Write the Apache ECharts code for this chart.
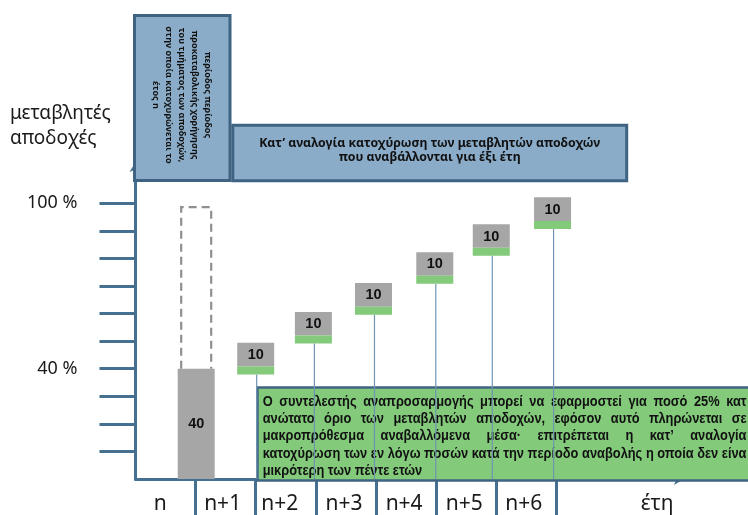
<!DOCTYPE html>
<html><head><meta charset="utf-8">
<script src="https://cdn.jsdelivr.net/npm/echarts@6/dist/echarts.min.js"></script>
<style>html,body{margin:0;padding:0;background:#fff}#c{width:748px;height:515px}</style>
</head><body><div id="c"></div>
<script>
// ---------- data ----------
const periods = ['n', 'n+1', 'n+2', 'n+3', 'n+4', 'n+5', 'n+6', 'έτη'];
const periodLabelPos = [0.41, 1.45, 2.40, 3.47, 4.47, 5.47, 6.46, 8.68];
const periodBoundaries = [1, 2, 3, 4, 5, 6, 7];
const yTickValues = [10, 20, 30, 40, 50, 60, 70, 80, 90, 100];
const yLabelValues = [40, 100];
const upfrontPos = [1.01];
const upfrontValue = [40];
const entitlementTop = [98.6];
const tranchePos = [2.0, 2.96, 3.96, 4.98, 5.92, 6.94];
const trancheValues = [10, 10, 10, 10, 10, 10];
const trancheBottom = [37.9, 49.2, 59.6, 70.8, 81.0, 90.7];
const trancheTop = [49.4, 60.6, 71.1, 82.3, 92.4, 102.2];

const yAxisTitle = ['μεταβλητές', 'αποδοχές'];
const verticalNoteLines = ['περίοδος περίοδος', 'προκαταβολικής χορήγησης', 'του τμήματος των αποδοχών,', 'στην οποία κατοχυρώνεται το', 'έτος n'];
const topNoteLines = ['Κατ’ αναλογία κατοχύρωση των μεταβλητών αποδοχών', 'που αναβάλλονται για έξι έτη'];
const greenNoteLines = [
  'Ο συντελεστής αναπροσαρμογής μπορεί να εφαρμοστεί για ποσό 25% κατ',
  'ανώτατο όριο των μεταβλητών αποδοχών, εφόσον αυτό πληρώνεται σε',
  'μακροπρόθεσμα αναβαλλόμενα μέσα· επιτρέπεται η κατ’ αναλογία',
  'κατοχύρωση των εν λόγω ποσών κατά την περίοδο αναβολής η οποία δεν είνα',
  'μικρότερη των πέντε ετών'
];

// ---------- helpers ----------
const FAM = '"Noto Sans", "DejaVu Sans", sans-serif';
const BFAM = '"Liberation Sans", Arial, sans-serif';
const mctx = document.createElement('canvas').getContext('2d');
function tw(t, font) { mctx.font = font; return mctx.measureText(t).width; }
function fit(text, weight, target) { return 12 * target / tw(text, weight + ' 12px ' + FAM); }

const AX = '#45708f';
const BLUE = '#8aacc8';
const BORDER = '#3f6483';
const GREEN = '#83ca7b';
const GREY = '#a6a6a6';

const chart = echarts.init(document.getElementById('c'), null, { renderer: 'canvas' });

// ---------- graphic annotations ----------
const graphics = [];
const TXT = (o) => Object.assign({ fill: '#111', textAlign: 'left', align: 'left', textVerticalAlign: 'middle', verticalAlign: 'middle' }, o);
// y axis title
const titleSize = fit(yAxisTitle[0], 'normal', 101);
yAxisTitle.forEach((t, i) => graphics.push({
  type: 'text', x: 10, y: 114 + i * 24.5, z: 1,
  style: TXT({ text: t, font: titleSize.toFixed(1) + 'px ' + FAM, fill: '#1a1a1a' })
}));
// vertical blue box
graphics.push({ type: 'rect', z: 1, shape: { x: 134.5, y: 15.5, width: 95.5, height: 165 }, style: { fill: BLUE, stroke: BORDER, lineWidth: 3 } });
const vSize = fit(verticalNoteLines[3], 'bold', 137);
graphics.push({
  type: 'text', x: 181.5, y: 95, rotation: -Math.PI / 2, z: 1,
  style: TXT({ text: verticalNoteLines.join('\n'), font: 'bold ' + vSize.toFixed(1) + 'px ' + FAM, lineHeight: 13,
    textAlign: 'center', align: 'center' })
});
// top blue box
graphics.push({ type: 'rect', z: 1, shape: { x: 232.8, y: 125.3, width: 393.9, height: 55.5 }, style: { fill: BLUE, stroke: BORDER, lineWidth: 3 } });
const tSize = fit(topNoteLines[0], 'bold', 340);
topNoteLines.forEach((t, i) => graphics.push({
  type: 'text', x: 429.7, y: 143.3 + i * 14, z: 1,
  style: TXT({ text: t, font: 'bold ' + tSize.toFixed(1) + 'px ' + FAM, textAlign: 'center', align: 'center' })
}));
// green note box
graphics.push({ type: 'rect', z: 1, shape: { x: 257.5, y: 387.5, width: 520, height: 93 }, style: { fill: GREEN, stroke: BORDER, lineWidth: 2.5 } });
const gFont = 'bold 14px ' + BFAM;
const gScale = Math.min(1, 483 / tw(greenNoteLines[3], gFont));
const gLeft = 262.7, gRight = 746.5;
greenNoteLines.forEach((line, li) => {
  const y = 402 + li * 17.3;
  const words = line.split(' ');
  const justify = li < greenNoteLines.length - 1;
  const widths = words.map(w => tw(w, gFont) * gScale);
  const sum = widths.reduce((a, b) => a + b, 0);
  const gap = justify ? (gRight - gLeft - sum) / (words.length - 1) : tw(' ', gFont) * gScale;
  let x = gLeft;
  words.forEach((w, wi) => {
    graphics.push({ type: 'text', x: x, y: y, z: 1, scaleX: gScale, scaleY: 1,
      style: TXT({ text: w, font: gFont }) });
    x += widths[wi] + gap;
  });
});

// ---------- series ----------
const trancheData = tranchePos.map((p, i) => [p, trancheBottom[i], trancheTop[i], trancheValues[i]]);

const option = {
  animation: false,
  grid: { left: 135.5, right: 64, top: 162, bottom: 35 },
  xAxis: {
    type: 'value', min: 0, max: 9.127,
    splitLine: { show: false },
    axisLine: { show: true, onZero: false, lineStyle: { color: AX, width: 3 }, symbol: ['none', 'arrow'], symbolSize: [9, 10] },
    axisTick: { show: true, customValues: periodBoundaries, length: 40, lineStyle: { color: AX, width: 3 } },
    axisLabel: {
      customValues: periodLabelPos, margin: 15, fontSize: 21, fontFamily: FAM, color: '#1a1a1a',
      formatter: v => { let bi = 0; periodLabelPos.forEach((p, i) => { if (Math.abs(p - v) < Math.abs(periodLabelPos[bi] - v)) bi = i; }); return periods[bi]; }
    }
  },
  yAxis: {
    type: 'value', min: 0, max: 115,
    splitLine: { show: false },
    axisLine: { show: true, onZero: false, lineStyle: { color: AX, width: 3 }, symbol: ['none', 'arrow'], symbolSize: [9, 10] },
    axisTick: { show: true, customValues: yTickValues, length: 36, lineStyle: { color: AX, width: 3 } },
    axisLabel: { customValues: yLabelValues, formatter: '{value} %', margin: 58, fontSize: 18, fontFamily: FAM, color: '#1a1a1a' }
  },
  graphic: graphics,
  series: [
    {
      type: 'custom', name: 'entitlement', z: 2,
      data: upfrontPos.map((p, i) => [p, upfrontValue[i], entitlementTop[i]]),
      renderItem: (params, api) => {
        const b = api.coord([api.value(0), api.value(1)]);
        const t = api.coord([api.value(0), api.value(2)]);
        const hw = 15;
        return { type: 'polyline', shape: { points: [[b[0] - hw, b[1]], [b[0] - hw, t[1]], [b[0] + hw, t[1]], [b[0] + hw, b[1]]] },
          style: { stroke: '#8f8f8f', lineWidth: 2.2, fill: null, lineDash: [8, 5] } };
      }
    },
    {
      type: 'bar', name: 'upfront', z: 3,
      data: upfrontPos.map((p, i) => [p, upfrontValue[i]]),
      barWidth: 37,
      itemStyle: { color: GREY },
      label: { show: true, position: 'inside', formatter: p => String(p.value[1]), fontWeight: 'bold', fontSize: 14.5, fontFamily: BFAM, color: '#111' }
    },
    {
      type: 'custom', name: 'tranches', z: 3,
      data: trancheData,
      renderItem: (params, api) => {
        const x = api.value(0);
        const pT = api.coord([x, api.value(2)]);
        const pB = api.coord([x, api.value(1)]);
        const p0 = api.coord([x, 0]);
        const w = 37, g = 8;
        const gh = pB[1] - pT[1] - g;
        return { type: 'group', children: [
          { type: 'line', shape: { x1: pB[0] + 1, y1: pB[1], x2: pB[0] + 1, y2: p0[1] }, style: { stroke: '#6f94b1', lineWidth: 1.2 } },
          { type: 'rect', shape: { x: pT[0] - w / 2, y: pT[1], width: w, height: gh }, style: { fill: GREY } },
          { type: 'rect', shape: { x: pT[0] - w / 2, y: pB[1] - g, width: w, height: g }, style: { fill: GREEN } },
          { type: 'text', x: pT[0], y: pT[1] + gh / 2 + 0.5,
            style: TXT({ text: String(api.value(3)), font: 'bold 14.5px ' + BFAM, textAlign: 'center', align: 'center' }) }
        ] };
      }
    }
  ]
};
chart.setOption(option);
</script>
</body></html>
